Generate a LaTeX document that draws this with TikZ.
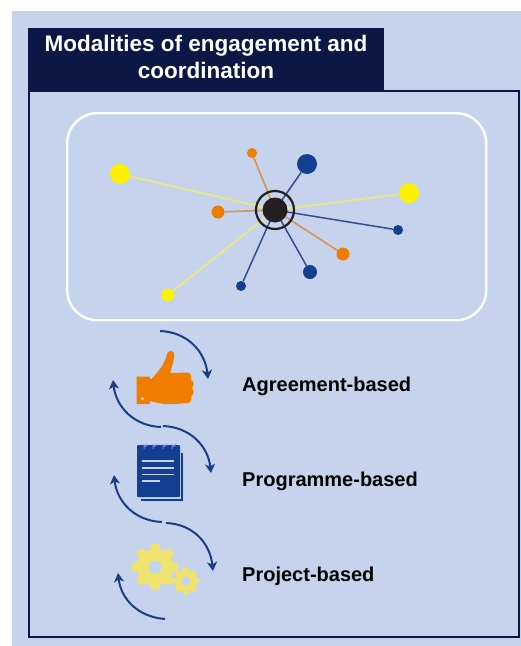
\documentclass[tikz,border=0pt]{standalone}
\usepackage{fontspec}
\setmainfont{Liberation Sans}
\usetikzlibrary{arrows.meta}
\definecolor{bgblue}{HTML}{C5D3EC}
\definecolor{navy}{HTML}{0B1845}
\definecolor{midblue}{HTML}{123F8F}
\definecolor{arrowblue}{HTML}{1B3F86}
\definecolor{dotyellow}{HTML}{FFF000}
\definecolor{dotorange}{HTML}{F07D00}
\definecolor{lineyellow}{HTML}{E9E58C}
\definecolor{lineorange}{HTML}{D9965A}
\definecolor{lineblue}{HTML}{2F4F8F}
\definecolor{gearyellow}{HTML}{EFE370}
\definecolor{hubblack}{HTML}{231F20}
\tikzset{
  x=1pt,y=-1pt,
  dotnode/.style={circle,inner sep=0pt,minimum size=#1,fill},
  yel/.style={dotnode=#1,fill=dotyellow},
  ora/.style={dotnode=#1,fill=dotorange},
  blu/.style={dotnode=#1,fill=midblue},
  yspoke/.style={draw=lineyellow,line width=2pt},
  ospoke/.style={draw=lineorange,line width=1.7pt},
  bspoke/.style={draw=lineblue,line width=1.5pt},
  cyc/.style={draw=arrowblue,line width=2pt,-{Stealth[length=9pt,width=10pt,inset=2.5pt]}},
  lab/.style={font=\fontsize{20}{22}\selectfont\bfseries,anchor=west,text=black,inner sep=0pt},
}
\newcommand{\mygear}[4]{% x,y,outer radius,hole radius
  \foreach \a in {0,45,...,315}{
    \fill[gearyellow,shift={(#1,#2)},rotate=\a,rounded corners=1pt]
      (-0.24*#3,-0.7*#3) -- (-0.17*#3,-#3) -- (0.17*#3,-#3) -- (0.24*#3,-0.7*#3) -- cycle;
  }
  \fill[gearyellow] (#1,#2) circle[radius=0.78*#3];
  \fill[bgblue] (#1,#2) circle[radius=#4];
}
\begin{document}
\begin{tikzpicture}
\useasboundingbox (0,0) rectangle (521,646);
\fill[bgblue] (12,11) rectangle (521,646);
% frame and title
\draw[navy,line width=2pt] (29,91) rectangle (519,637);
\node[fill=navy,minimum width=356pt,minimum height=63pt,inner sep=0pt,anchor=north west] (title) at (28,28) {};
\node[text=white,align=center,inner sep=0pt,font=\fontsize{22.5}{27}\selectfont\bfseries] (titletext) at (206,56.5) {Modalities of engagement and\\coordination};
% network panel
\node[draw=white,line width=2.4pt,rounded corners=30pt,minimum width=419pt,minimum height=207pt,inner sep=0pt,anchor=north west] (panel) at (66,112) {};
% hub
\node[circle,inner sep=0pt,minimum size=25pt] (hub) at (275,210) {};
\node[yel=20pt] (y1) at (120,174) {};
\node[yel=20pt] (y2) at (409,193) {};
\node[yel=13pt] (y3) at (168,295) {};
\node[ora=10pt] (o1) at (252,153) {};
\node[ora=13pt] (o2) at (218,212) {};
\node[ora=13pt] (o3) at (343,254) {};
\node[blu=20pt] (b1) at (307,164) {};
\node[blu=10pt] (b2) at (398,230) {};
\node[blu=14pt] (b3) at (310,272) {};
\node[blu=10pt] (b4) at (241,286) {};
\draw[yspoke] (hub.center) -- (y1);
\draw[yspoke] (hub.center) -- (y2);
\draw[yspoke] (hub.center) -- (y3);
\draw[ospoke] (hub.center) -- (o1);
\draw[ospoke] (hub.center) -- (o2);
\draw[ospoke] (hub.center) -- (o3);
\draw[bspoke] (hub.center) -- (b1);
\draw[bspoke] (hub.center) -- (b2);
\draw[bspoke] (hub.center) -- (b3);
\draw[bspoke] (hub.center) -- (b4);
\node[circle,fill=hubblack,inner sep=0pt,minimum size=25pt] (hubdot) at (275,210) {};
\node[circle,draw=hubblack,line width=2.2pt,inner sep=0pt,minimum size=38pt] (ring) at (275,210) {};
% thumb
\fill[dotorange] (136.7,376.7) -- (149.5,376.7) -- (150,379) -- (152,378.5)
  .. controls (158,372) and (163,366) .. (166,358)
  .. controls (167,353) and (168,351) .. (170,351)
  .. controls (174,351) and (175,354) .. (174,358)
  .. controls (173,364) and (171,369) .. (170,373)
  -- (187,372.5) .. controls (191,373) and (192,376) .. (191,380)
  .. controls (194,381) and (194,386) .. (192,388)
  .. controls (194,390) and (194,395) .. (191,396)
  .. controls (192,401) and (190,403) .. (187,403)
  -- (175,404) .. controls (165,405) and (158,403) .. (150,401)
  -- (149.5,404) -- (136.7,404) -- cycle;
\fill[bgblue] (142.5,398.7) circle[radius=1.7];
% notebook
\fill[midblue] (141,453) rectangle (183,501);
\fill[bgblue] (137,450) rectangle (181,498.5);
\fill[midblue,rounded corners=1pt] (137,445) rectangle (180,497);
\foreach \x in {144,153,163,172}{
  \draw[bgblue!60!blue,line width=1pt] (\x,449) -- (\x,445) arc[start angle=180,end angle=0,radius=1.5] -- ++(0,1);
}
\draw[bgblue,line width=1.1pt] (142,461) -- (174,461);
\draw[bgblue,line width=1.1pt] (142,468) -- (174,468);
\draw[bgblue,line width=1.1pt] (142,474.5) -- (174,474.5);
\draw[bgblue,line width=1.1pt] (142,481) -- (160,481);
% gears
\mygear{155}{567}{23}{6.5}
\mygear{186}{581}{13.5}{4.5}
% cycle arrows
\coordinate (a1s) at (160,331); \coordinate (a1e) at (208,379);
\coordinate (a2s) at (161,427); \coordinate (a2e) at (113,380);
\coordinate (a3s) at (163,426); \coordinate (a3e) at (211,473);
\coordinate (a4s) at (162,522); \coordinate (a4e) at (114,475);
\coordinate (a5s) at (166,523); \coordinate (a5e) at (213,571);
\coordinate (a6s) at (165,619); \coordinate (a6e) at (118,573);
\draw[cyc] (a1s) .. controls (187,332) and (205,351) .. (a1e);
\draw[cyc] (a2s) .. controls (134,426) and (116,407) .. (a2e);
\draw[cyc] (a3s) .. controls (190,427) and (208,446) .. (a3e);
\draw[cyc] (a4s) .. controls (135,521) and (117,502) .. (a4e);
\draw[cyc] (a5s) .. controls (193,524) and (210,543) .. (a5e);
\draw[cyc] (a6s) .. controls (138,617) and (121,599) .. (a6e);
% labels
\node[lab] (l1) at (242,386) {Agreement-based};
\node[lab] (l2) at (242,481) {Programme-based};
\node[lab] (l3) at (242,576) {Project-based};
\end{tikzpicture}
\end{document}
